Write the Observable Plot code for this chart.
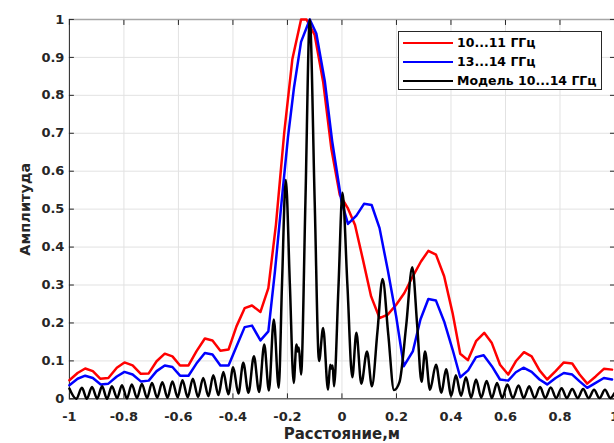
<!DOCTYPE html>
<html><head><meta charset="utf-8">
<script src="https://cdn.jsdelivr.net/npm/d3@7"></script>
<script src="https://cdn.jsdelivr.net/npm/@observablehq/plot@0.6"></script>
<style>
html,body{margin:0;padding:0;background:#fff;overflow:hidden;}
#wrap{position:relative;width:614px;height:443px;overflow:hidden;}
#wrap svg{display:block;}
.legend{position:absolute;left:398px;top:31px;width:204px;height:59px;border:1px solid #262626;background:#fff;box-sizing:border-box;font-family:"DejaVu Sans";font-weight:bold;font-size:12.5px;color:#000;}
.row{position:absolute;left:0;width:100%;height:18px;}
.row .sw{position:absolute;left:4px;top:8px;width:50px;height:0;border-top:2.5px solid #000;}
.row .lb{position:absolute;left:58px;top:0;line-height:18px;white-space:nowrap;}
</style></head><body><div id="wrap"></div>
<script>
const seriesNames = ["10...11 ГГц", "13...14 ГГц", "Модель 10...14 ГГц"];
const seriesColors = ["#ff0000", "#0000ff", "#000000"];
const xTicks = [-1, -0.8, -0.6, -0.4, -0.2, 0, 0.2, 0.4, 0.6, 0.8, 1];
const yTicks = [0, 0.1, 0.2, 0.3, 0.4, 0.5, 0.6, 0.7, 0.8, 0.9, 1];
const xLabel = "Расстояние,м";
const yLabel = "Амплитуда";

const redX = [-1.000,-0.970,-0.942,-0.914,-0.887,-0.857,-0.826,-0.798,-0.768,-0.738,-0.709,-0.680,-0.650,-0.622,-0.594,-0.563,-0.534,-0.503,-0.475,-0.446,-0.416,-0.387,-0.357,-0.330,-0.299,-0.270,-0.242,-0.212,-0.182,-0.150,-0.130,-0.100,-0.069,-0.039,-0.008,0.022,0.048,0.077,0.107,0.138,0.168,0.199,0.229,0.260,0.290,0.317,0.345,0.375,0.406,0.434,0.462,0.492,0.522,0.550,0.580,0.610,0.638,0.668,0.696,0.725,0.753,0.784,0.814,0.845,0.872,0.900,0.931,0.961,0.991];
const redY = [0.049,0.068,0.080,0.073,0.053,0.055,0.082,0.096,0.088,0.066,0.067,0.099,0.119,0.112,0.088,0.088,0.125,0.159,0.154,0.127,0.130,0.191,0.239,0.246,0.229,0.292,0.460,0.700,0.895,1.000,1.000,0.959,0.836,0.660,0.538,0.502,0.458,0.367,0.270,0.213,0.222,0.248,0.279,0.323,0.362,0.390,0.380,0.323,0.226,0.119,0.102,0.152,0.174,0.147,0.090,0.064,0.099,0.123,0.112,0.075,0.051,0.073,0.096,0.093,0.064,0.040,0.059,0.079,0.077];

const blueX = [-1.000,-0.970,-0.942,-0.914,-0.885,-0.857,-0.826,-0.798,-0.768,-0.738,-0.709,-0.680,-0.650,-0.622,-0.594,-0.563,-0.534,-0.503,-0.475,-0.446,-0.416,-0.387,-0.357,-0.330,-0.299,-0.270,-0.246,-0.222,-0.198,-0.176,-0.150,-0.118,-0.094,-0.063,-0.036,-0.002,0.022,0.053,0.081,0.109,0.138,0.168,0.199,0.227,0.260,0.288,0.317,0.345,0.375,0.406,0.434,0.463,0.492,0.520,0.550,0.580,0.610,0.638,0.666,0.696,0.725,0.753,0.784,0.814,0.845,0.872,0.900,0.931,0.961,0.991];
const blueY = [0.036,0.053,0.061,0.055,0.038,0.040,0.059,0.071,0.064,0.046,0.048,0.073,0.088,0.084,0.061,0.061,0.093,0.121,0.117,0.088,0.088,0.138,0.189,0.193,0.154,0.178,0.335,0.515,0.690,0.820,0.941,1.000,0.963,0.838,0.680,0.522,0.461,0.483,0.514,0.511,0.450,0.340,0.217,0.086,0.125,0.209,0.263,0.259,0.204,0.130,0.057,0.075,0.110,0.115,0.086,0.051,0.048,0.070,0.082,0.071,0.051,0.038,0.055,0.068,0.064,0.046,0.029,0.042,0.055,0.051];

const blackX = [-1.000,-0.975,-0.954,-0.936,-0.917,-0.898,-0.880,-0.862,-0.844,-0.825,-0.807,-0.789,-0.771,-0.752,-0.734,-0.715,-0.697,-0.678,-0.659,-0.640,-0.622,-0.603,-0.585,-0.566,-0.547,-0.528,-0.509,-0.490,-0.472,-0.453,-0.435,-0.417,-0.399,-0.380,-0.362,-0.343,-0.323,-0.304,-0.285,-0.268,-0.250,-0.232,-0.220,-0.206,-0.191,-0.177,-0.167,-0.162,-0.158,-0.150,-0.134,-0.118,-0.100,-0.084,-0.069,-0.051,-0.043,-0.038,-0.034,-0.029,-0.013,0.002,0.020,0.038,0.053,0.071,0.092,0.110,0.130,0.149,0.170,0.191,0.211,0.236,0.258,0.276,0.292,0.305,0.323,0.345,0.365,0.382,0.401,0.418,0.437,0.455,0.474,0.492,0.511,0.531,0.550,0.569,0.588,0.607,0.627,0.648,0.667,0.687,0.707,0.727,0.746,0.766,0.786,0.806,0.825,0.845,0.865,0.885,0.905,0.925,0.945,0.965,0.985,1.000];
const blackY = [0.027,0.000,0.029,0.000,0.031,0.001,0.033,0.000,0.033,0.002,0.036,0.001,0.038,0.002,0.039,0.002,0.042,0.003,0.044,0.003,0.046,0.004,0.049,0.004,0.053,0.005,0.055,0.007,0.062,0.010,0.071,0.012,0.083,0.014,0.095,0.016,0.112,0.018,0.143,0.022,0.209,0.029,0.300,0.577,0.300,0.042,0.143,0.125,0.135,0.064,0.520,1.000,0.520,0.100,0.187,0.024,0.090,0.080,0.088,0.033,0.290,0.543,0.300,0.057,0.174,0.040,0.125,0.033,0.175,0.316,0.170,0.023,0.044,0.195,0.347,0.195,0.045,0.125,0.024,0.090,0.016,0.078,0.008,0.062,0.008,0.057,0.003,0.051,0.003,0.047,0.002,0.042,0.002,0.038,0.002,0.035,0.002,0.033,0.002,0.031,0.002,0.030,0.002,0.028,0.002,0.026,0.002,0.026,0.002,0.024,0.002,0.024,0.002,0.015];

const red = redX.map((x, i) => ({x, y: redY[i]}));
const blue = blueX.map((x, i) => ({x, y: blueY[i]}));
const black = blackX.map((x, i) => ({x, y: blackY[i]}));

const fmt = d => String(d);
const chart = Plot.plot({
  width: 615, height: 443,
  marginLeft: 69, marginRight: 0, marginTop: 19, marginBottom: 44,
  style: {fontFamily: "DejaVu Sans", fontWeight: "bold", fontSize: "13px", color: "#262626", background: "#fff", overflow: "visible"},
  x: {domain: [-1, 1]},
  y: {domain: [0, 1]},
  marks: [
    Plot.gridX(xTicks, {stroke: "#e2e2e2", strokeOpacity: 1}),
    Plot.gridY(yTicks, {stroke: "#e2e2e2", strokeOpacity: 1}),
    Plot.ruleY([1], {stroke: "#a6a6a6", strokeWidth: 1.5}),
    Plot.ruleX([1], {stroke: "#a6a6a6"}),
    Plot.axisX(xTicks, {tickSize: 0, tickPadding: 13, tickFormat: fmt, label: null, fill: "#262626"}),
    Plot.axisY(yTicks, {tickSize: 0, tickPadding: 5, tickFormat: fmt, label: null, fill: "#262626"}),
    Plot.axisX(xTicks, {anchor: "bottom", tickSize: -5, tickFormat: () => "", label: null, stroke: "#262626"}),
    Plot.axisX(xTicks, {anchor: "top", tickSize: -5, tickFormat: () => "", label: null, stroke: "#262626"}),
    Plot.axisY(yTicks, {anchor: "left", tickSize: -5, tickFormat: () => "", label: null, stroke: "#262626"}),
    Plot.axisY(yTicks, {anchor: "right", tickSize: -5, tickFormat: () => "", label: null, stroke: "#262626"}),
    Plot.ruleX([-1], {stroke: "#262626"}),
    Plot.ruleY([0], {stroke: "#262626"}),
    Plot.line(red, {x: "x", y: "y", stroke: seriesColors[0], strokeWidth: 2.5}),
    Plot.line(blue, {x: "x", y: "y", stroke: seriesColors[1], strokeWidth: 2.5}),
    Plot.line(black, {x: "x", y: "y", stroke: seriesColors[2], strokeWidth: 2.5, curve: "monotone-x"}),
    Plot.text([yLabel], {frameAnchor: "left", textAnchor: "middle", lineAnchor: "middle", dx: -44, rotate: -90, fontSize: 14.5, fill: "#262626"}),
    Plot.text([xLabel], {frameAnchor: "bottom", textAnchor: "middle", lineAnchor: "middle", dy: 35, fontSize: 15, fill: "#262626"})
  ]
});
const wrap = document.getElementById("wrap");
wrap.appendChild(chart);
const lg = document.createElement("div");
lg.className = "legend";
seriesNames.forEach((name, i) => {
  const r = document.createElement("div");
  r.className = "row";
  r.style.top = (2 + i * 19) + "px";
  const sw = document.createElement("div");
  sw.className = "sw";
  sw.style.borderTopColor = seriesColors[i];
  const lb = document.createElement("div");
  lb.className = "lb";
  lb.textContent = name;
  r.appendChild(sw); r.appendChild(lb);
  lg.appendChild(r);
});
wrap.appendChild(lg);
</script>
</body></html>
